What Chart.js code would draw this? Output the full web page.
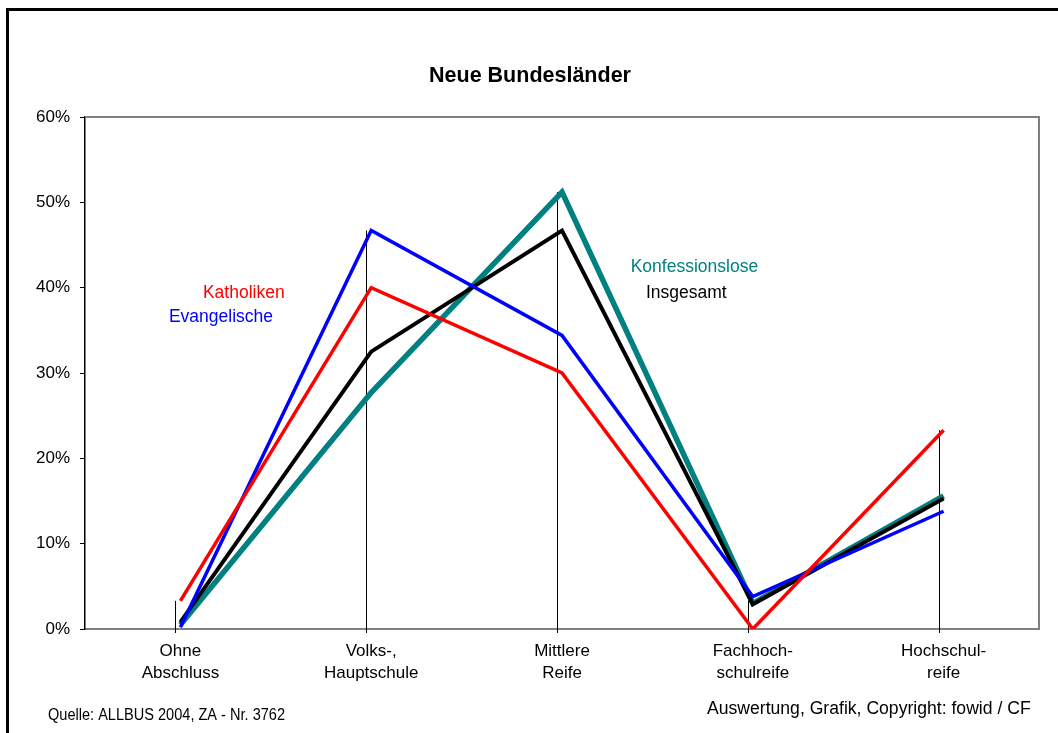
<!DOCTYPE html>
<html>
<head>
<meta charset="utf-8">
<script src="https://cdn.jsdelivr.net/npm/chart.js@4/dist/chart.umd.min.js"></script>
<style>
  html, body { margin: 0; padding: 0; background: #fff; }
  #wrap { width: 1058px; height: 733px; }
</style>
</head>
<body>
<div id="wrap"><canvas id="grafik" width="1058" height="733"></canvas></div>
<script>
// Kategorien und Werte (in Prozent)
let abschluesse = [['Ohne', 'Abschluss'], ['Volks-,', 'Hauptschule'], ['Mittlere', 'Reife'], ['Fachhoch-', 'schulreife'], ['Hochschul-', 'reife']];
let katholiken = [3.3, 40.0, 30.0, 0.0, 23.3];
let evangelische = [0.2, 46.7, 34.4, 3.8, 13.8];
let konfessionslose = [0.5, 27.7, 51.2, 3.0, 15.6];
let insgesamt = [0.8, 32.5, 46.7, 2.9, 15.3];
let yTicks = [0, 10, 20, 30, 40, 50, 60];

// Beschriftungen der Linien (Position in Achsenwerten)
let beschriftungen = [
    { text: 'Katholiken', farbe: '#ff0000', x: 0.118, y: 39.4 },
    { text: 'Evangelische', farbe: '#0000ff', x: -0.06, y: 36.6 },
    { text: 'Konfessionslose', farbe: '#008080', x: 2.36, y: 42.4 },
    { text: 'Insgesamt', farbe: '#000000', x: 2.44, y: 39.4 }
];

let schrift = '"Liberation Sans", Arial, sans-serif';

// Rahmen, Titel, Fallinien und Texte
let extras = {
    id: 'extras',
    beforeDraw(chart) {
        let ctx = chart.ctx;
        ctx.save();
        ctx.fillStyle = '#fff';
        ctx.fillRect(0, 0, chart.width, chart.height);
        ctx.restore();
    },
    beforeDatasetsDraw(chart) {
        let ctx = chart.ctx;
        let a = chart.chartArea;
        let x = chart.scales.x, y = chart.scales.y;
        ctx.save();
        // grauer Rahmen oben und rechts
        ctx.strokeStyle = '#808080';
        ctx.lineWidth = 2;
        ctx.beginPath();
        ctx.moveTo(a.left, a.top);
        ctx.lineTo(a.right, a.top);
        ctx.lineTo(a.right, a.bottom);
        ctx.stroke();
        // Fallinien vom Maximum zur Achse
        ctx.strokeStyle = '#000';
        ctx.lineWidth = 1;
        for (let i = 0; i < abschluesse.length; i++) {
            let m = Math.max(katholiken[i], evangelische[i], konfessionslose[i], insgesamt[i]);
            let px = Math.round(x.getPixelForValue(i)) - 4.5;
            ctx.beginPath();
            ctx.moveTo(px, y.getPixelForValue(m));
            ctx.lineTo(px, a.bottom + 4);
            ctx.stroke();
        }
        ctx.restore();
    },
    afterDraw(chart) {
        let ctx = chart.ctx;
        let x = chart.scales.x, y = chart.scales.y;
        ctx.save();
        // äußerer Rahmen
        ctx.strokeStyle = '#000';
        ctx.lineWidth = 3;
        ctx.strokeRect(7.5, 9.5, 1200, 900);
        // Titel
        ctx.fillStyle = '#000';
        ctx.font = 'bold 21.5px ' + schrift;
        ctx.textAlign = 'center';
        ctx.textBaseline = 'middle';
        ctx.fillText('Neue Bundesländer', 530, 76);
        // Linienbeschriftungen
        ctx.font = '17.5px ' + schrift;
        ctx.textAlign = 'left';
        let schritt = x.getPixelForValue(1) - x.getPixelForValue(0);
        beschriftungen.forEach(function(b) {
            ctx.fillStyle = b.farbe;
            ctx.fillText(b.text, x.getPixelForValue(0) + b.x * schritt, y.getPixelForValue(b.y));
        });
        // Quellen
        ctx.fillStyle = '#000';
        ctx.save();
        ctx.font = '16px ' + schrift;
        let q = 'Quelle: ALLBUS 2004, ZA - Nr. 3762';
        let f = 237 / ctx.measureText(q).width;
        ctx.translate(48, 716);
        ctx.scale(f, 1);
        ctx.fillText(q, 0, 0);
        ctx.restore();
        ctx.font = '17.6px ' + schrift;
        ctx.fillText('Auswertung, Grafik, Copyright: fowid / CF', 707, 709);
        ctx.restore();
    }
};

function linie(label, werte, farbe, breite, reihenfolge) {
    return {
        label: label,
        data: werte,
        borderColor: farbe,
        backgroundColor: farbe,
        borderWidth: breite,
        pointRadius: 0,
        tension: 0,
        fill: false,
        order: reihenfolge
    };
}

function zeichneGrafik() {
    let ctx = document.getElementById('grafik').getContext('2d');
    new Chart(ctx, {
        type: 'line',
        data: {
            labels: abschluesse,
            datasets: [
                linie('Katholiken', katholiken, '#ff0000', 3.5, 1),
                linie('Evangelische', evangelische, '#0000ff', 3.5, 2),
                linie('Insgesamt', insgesamt, '#000000', 4, 3),
                linie('Konfessionslose', konfessionslose, '#008080', 5.5, 4)
            ]
        },
        plugins: [extras],
        options: {
            responsive: false,
            animation: false,
            layout: { padding: { left: 0, top: 117, right: 19, bottom: 0 } },
            plugins: {
                legend: { display: false },
                title: { display: false },
                tooltip: { enabled: false }
            },
            scales: {
                x: {
                    type: 'category',
                    offset: true,
                    grid: { display: false, drawTicks: false },
                    border: { display: true, color: '#808080', width: 2 },
                    ticks: {
                        color: '#000',
                        padding: 11,
                        maxRotation: 0,
                        autoSkip: false,
                        font: { family: schrift, size: 17, lineHeight: 1.3 }
                    },
                    afterFit: function(s) { s.height = 104; }
                },
                y: {
                    min: 0,
                    max: 60,
                    afterBuildTicks: function(s) { s.ticks = yTicks.map(function(v) { return { value: v }; }); },
                    grid: { drawOnChartArea: false, drawTicks: true, tickLength: 5, color: '#000' },
                    border: { display: true, color: '#000', width: 1.5 },
                    ticks: {
                        color: '#000',
                        padding: 10,
                        font: { family: schrift, size: 17 },
                        callback: function(v) { return v + '%'; }
                    },
                    afterFit: function(s) { s.width = 85; }
                }
            }
        }
    });
}

document.addEventListener('DOMContentLoaded', zeichneGrafik);
</script>
</body>
</html>
